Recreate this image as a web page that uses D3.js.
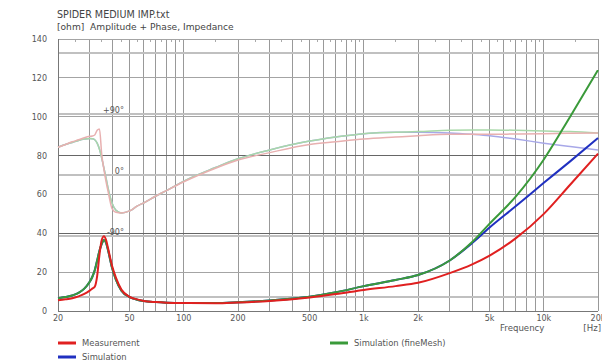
<!DOCTYPE html>
<html><head><meta charset="utf-8">
<script src="https://cdn.jsdelivr.net/npm/d3@7"></script>
<style>
html,body{margin:0;padding:0;background:#fff;}
svg{display:block;font-family:"DejaVu Sans",Verdana,sans-serif;}
</style></head>
<body><svg id="c" width="602" height="363"></svg>
<script>
// ---- data ----
const title = "SPIDER MEDIUM IMP.txt";
const subtitle = "[ohm]  Amplitude + Phase, Impedance";
const freqs = [20,22,24,26,28,30,31,32,33,34,35,36,37,38,40,42,45,50,55,60,70,80,100,150,200,300,500,700,1000,1500,2000,3000,4000,5000,7000,10000,14000,20000];
const ampMeasurement = [5.5,6,6.6,7.5,8.8,10.5,11.5,12.5,18,29,36.5,38.5,36.5,32,23,17,11,7.3,6,5.2,4.6,4.3,4.1,4.0,4.4,5.2,7.0,8.7,10.8,12.8,14.5,19.5,24,28.5,37.5,50,65,81];
const ampSimulation  = [6.5,7.2,8,9.3,11.5,15,17.5,21,26,31,34.5,36.5,35,31,22,16,10.5,7.2,5.8,5.1,4.6,4.3,4.1,4.1,4.5,5.4,7.3,9.6,12.8,16,18.5,26,35,43,54,66,77,89];
const ampFineMesh    = [6.5,7.2,8,9.3,11.5,15,17.5,21,26,31,34.5,36.5,35,31,22,16,10.5,7.2,5.8,5.1,4.6,4.3,4.1,4.1,4.5,5.4,7.3,9.6,12.8,16,18.5,26,35.5,45,59,78,100,124];
// phase in degrees
const phaseMeasurement = [41,45,49,52,55,57,57.5,59,66,68,30,8,-10,-25,-50,-55,-56,-53,-46,-41,-31,-23,-10,10,22,33,45,49,53,56,58,60,60,60,60.5,61,61.5,62];
const phaseSimulation  = [41,45,48,51,53,54,53.5,52,47,38,25,10,-5,-20,-42,-52,-56,-53,-46,-41,-31,-23,-9,11,24,37,50,56,61,63,63,62,60,58,53,47,42,37];
const phaseFineMesh    = [41,45,48,51,53,54,53.5,52,47,38,25,10,-5,-20,-42,-52,-56,-53,-46,-41,-31,-23,-9,11,24,37,50,56,61,63,64,66,66.5,66.5,66,65,64,62];
const yTicks = [0,20,40,60,80,100,120,140];
const phaseTicks = [-180,-90,0,90,180];
const phaseLabels = [{deg:90,text:"+90°"},{deg:0,text:"0°"},{deg:-90,text:"-90°"}];
const xTickVals = [20,50,100,200,500,1000,2000,5000,10000,20000];
const xTickLabels = ["20","50","100","200","500","1k","2k","5k","10k","20k"];
const legendNames = ["Measurement","Simulation","Simulation (fineMesh)"];

// ---- layout ----
const svg = d3.select("#c");
const L = 58, R = 598, T = 39, B = 311;
const x = d3.scaleLog().domain([20,20000]).range([L,R]);
const y = d3.scaleLinear().domain([0,140]).range([B,T]);
// phase axis: -180..180 deg mapped onto ohm axis
const yp = d3.scaleLinear().domain([-180,180]).range([y(7.2), y(132.8)]);

const gGrid = svg.append("g");
const gridF = [];
for (let d of [10,100,1000,10000]) for (let k=1;k<10;k++){ const f=d*k; if(f>=20 && f<=20000) gridF.push(f);}
gGrid.selectAll("line.v").data(gridF).enter().append("line")
  .attr("x1",d=>x(d)).attr("x2",d=>x(d)).attr("y1",T).attr("y2",B)
  .attr("stroke","#999").attr("stroke-width",1).attr("shape-rendering","crispEdges");
const minorF = [];
for (let d of [10,100,1000,10000]) for (let k=1.5;k<10;k+=1){ const f=d*k; if(f>20 && f<20000) minorF.push(f);}
gGrid.selectAll("line.m").data(minorF).enter().append("line")
  .attr("x1",d=>x(d)).attr("x2",d=>x(d)).attr("y1",T).attr("y2",T+3)
  .attr("stroke","#aaa").attr("stroke-width",1).attr("shape-rendering","crispEdges");
gGrid.selectAll("line.p").data(phaseTicks).enter().append("line")
  .attr("x1",L).attr("x2",R).attr("y1",d=>yp(d)).attr("y2",d=>yp(d))
  .attr("stroke","#c0c0c0").attr("stroke-width",1.2).attr("shape-rendering","crispEdges");
gGrid.selectAll("line.h").data(yTicks).enter().append("line")
  .attr("x1",L).attr("x2",R).attr("y1",d=>y(d)).attr("y2",d=>y(d))
  .attr("stroke",d=>(d===40||d===80)?"#666":"#a4a4a4").attr("stroke-width",1).attr("shape-rendering","crispEdges");
gGrid.append("line").attr("x1",L).attr("x2",L).attr("y1",T).attr("y2",B).attr("stroke","#777").attr("shape-rendering","crispEdges");
gGrid.append("line").attr("x1",L).attr("x2",R).attr("y1",B).attr("y2",B).attr("stroke","#777").attr("shape-rendering","crispEdges");

// y tick labels
svg.append("g").selectAll("text").data(yTicks).enter().append("text")
  .attr("x",47).attr("y",d=>y(d)+3).attr("text-anchor","end")
  .attr("font-size",8).attr("fill","#555").text(d=>d);
// x tick labels
svg.append("g").selectAll("text").data(xTickVals).enter().append("text")
  .attr("x",d=>x(d)).attr("y",320.5).attr("text-anchor","middle")
  .attr("font-size",8).attr("fill","#555").text((d,i)=>xTickLabels[i]);
const fq = svg.append("text").attr("y",330.5).attr("font-size",8.6).attr("fill","#555");
fq.append("tspan").attr("x",500).text("Frequency");
fq.append("tspan").attr("x",601).attr("text-anchor","end").text("[Hz]");

// titles
svg.append("text").attr("x",57).attr("y",18).attr("font-size",9.6).attr("fill","#444").text(title);
svg.append("text").attr("x",57).attr("y",29.5).attr("font-size",9.1).attr("fill","#444").attr("xml:space","preserve").text(subtitle);

// phase labels
svg.append("g").selectAll("text").data(phaseLabels).enter().append("text")
  .attr("x",x(46.5)).attr("y",d=>yp(d.deg)-1).attr("text-anchor","end")
  .attr("font-size",8).attr("fill","#555").text(d=>d.text);

const line = d3.line().x(d=>x(d[0])).y(d=>y(d[1])).curve(d3.curveMonotoneX);
const pline = d3.line().x(d=>x(d[0])).y(d=>yp(d[1])).curve(d3.curveMonotoneX);
const zip = a => freqs.map((f,i)=>[f,a[i]]);

const phases = [
  {v:phaseSimulation,c:"#a8a8e8"},
  {v:phaseFineMesh,c:"#a8d8a8"},
  {v:phaseMeasurement,c:"#e8b0b0"}];
phases.forEach(p=>svg.append("path").attr("d",pline(zip(p.v))).attr("fill","none")
  .attr("stroke",p.c).attr("stroke-width",1.5));

const amps = [
  {v:ampSimulation,c:"#2030c0"},
  {v:ampFineMesh,c:"#3a9a3a"},
  {v:ampMeasurement,c:"#e02020"}];
amps.forEach(p=>svg.append("path").attr("d",line(zip(p.v))).attr("fill","none")
  .attr("stroke",p.c).attr("stroke-width",2));

// legend
const legend = [
  {name:legendNames[0],c:"#e02020",lx:58,ly:343},
  {name:legendNames[1],c:"#2030c0",lx:58,ly:357},
  {name:legendNames[2],c:"#3a9a3a",lx:330,ly:343}];
const lg = svg.append("g");
legend.forEach(l=>{
  lg.append("line").attr("x1",l.lx).attr("x2",l.lx+18).attr("y1",l.ly).attr("y2",l.ly)
    .attr("stroke",l.c).attr("stroke-width",3);
  lg.append("text").attr("x",l.lx+24).attr("y",l.ly+3).attr("font-size",8.4).attr("fill","#555").text(l.name);
});
</script></body></html>
